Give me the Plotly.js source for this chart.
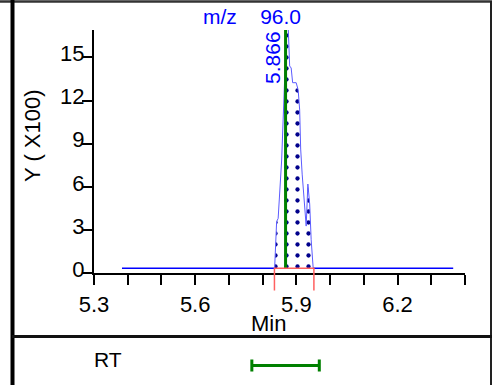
<!DOCTYPE html>
<html>
<head>
<meta charset="utf-8">
<script src="https://cdn.plot.ly/plotly-3.0.1.min.js"></script>
<style>html,body{margin:0;padding:0;background:#fff;}#chart{width:497px;height:385px;}</style>
</head>
<body>
<div id="chart"></div>
<script>
// ---- data ----
const baselineX = [5.383, 6.365];
const baselineY = [0.35, 0.35];

const peakX = [5.8356, 5.8386, 5.8415, 5.8460, 5.8519, 5.8564, 5.8608, 5.8668, 5.8712, 5.8757,
               5.8801, 5.8846, 5.8890, 5.8994, 5.9053, 5.9098, 5.9128, 5.9172, 5.9231, 5.9291,
               5.9341, 5.9395, 5.9439, 5.9499];
const peakY = [0.35, 1.60, 3.60, 3.81, 5.96, 7.87, 10.65, 14.82, 17.2, 17.2,
               14.40, 14.26, 13.24, 13.24, 12.74, 11.35, 8.63, 6.89, 4.81, 3.28,
               6.20, 4.81, 2.33, 0.35];

const apexRT = 5.868;
const apexLabel = '5.866';
const apexLineY = [0.35, 17.2];

const integStart = 5.835;
const integEnd = 5.952;
const integBase = 0.35;
const integDrop = -1.2;

const rtCenter = 5.868;
const rtHalfWidth = 0.1;
const rtRow = 0.4;

const xTicks = [5.3, 5.6, 5.9, 6.2];
const yTicks = [0, 3, 6, 9, 12, 15];
const mzText = 'm/z\u00a0\u00a0\u00a0 96.0';
const xTitle = 'Min';
const yTitle = 'Y ( X100)';
const rowLabel = 'RT';

// ---- geometry (paper fractions) ----
const W = 497, H = 385;
const px = v => v / W;
const py = v => (H - v) / H;
const xDom = [px(94), px(465)];
const yDom = [py(273.3), py(30)];
const yTop = 16.9;
const unitPx = (273.3 - 30) / yTop;
const y3Bottom = 300;
const y3Range = [-(y3Bottom - 273.3) / unitPx, yTop];

const FONT = 'Liberation Sans, Arial, sans-serif';

const traces = [
  {x: baselineX, y: baselineY, mode: 'lines', line: {color: '#0000ff', width: 1.5},
   xaxis: 'x', yaxis: 'y', hoverinfo: 'skip', showlegend: false},
  {x: peakX, y: peakY, mode: 'lines', fill: 'toself',
   line: {color: '#5b5bff', width: 1},
   fillcolor: 'rgba(255,255,255,1)',
   fillpattern: {shape: '.', fgcolor: '#00008b', bgcolor: '#ffffff', size: 11, solidity: 0.12},
   xaxis: 'x', yaxis: 'y', hoverinfo: 'skip', showlegend: false},
  {x: [apexRT, apexRT], y: apexLineY, mode: 'lines', line: {color: '#008000', width: 3},
   xaxis: 'x', yaxis: 'y', hoverinfo: 'skip', showlegend: false},
  {x: [integStart, integStart, integEnd, integEnd], y: [integDrop, integBase, integBase, integDrop],
   mode: 'lines', line: {color: '#ff6060', width: 1.5},
   xaxis: 'x3', yaxis: 'y3', hoverinfo: 'skip', showlegend: false},
  {x: [rtCenter], y: [rtRow], mode: 'markers', marker: {size: 1, color: 'rgba(0,0,0,0)'},
   error_x: {type: 'data', array: [rtHalfWidth], color: '#008000', thickness: 3, width: 6},
   xaxis: 'x2', yaxis: 'y2', hoverinfo: 'skip', showlegend: false}
];

const layout = {
  width: W, height: H,
  margin: {l: 0, r: 0, t: 0, b: 0},
  paper_bgcolor: '#ffffff', plot_bgcolor: 'rgba(0,0,0,0)',
  font: {family: FONT, size: 21, color: '#000'},
  showlegend: false,
  title: {text: mzText, x: px(252), y: py(17), xanchor: 'center', yanchor: 'middle',
          xref: 'paper', yref: 'paper', font: {family: FONT, size: 21, color: '#0000ff'}},
  xaxis: {domain: xDom, range: [5.3, 6.4], anchor: 'y',
          tickvals: xTicks, ticktext: xTicks.map(v => v.toFixed(1)),
          showgrid: false, zeroline: false, showline: true, linecolor: '#000', linewidth: 2,
          ticks: 'outside', ticklen: 10, tickwidth: 2, tickcolor: '#000',
          minor: {dtick: 0.1, ticks: 'outside', ticklen: 10, tickwidth: 2, tickcolor: '#000', showgrid: false},
          tickfont: {family: FONT, size: 22}},
  yaxis: {domain: yDom, range: [0, yTop], anchor: 'x',
          tickvals: yTicks, showgrid: false, zeroline: false, showline: true, linecolor: '#000', linewidth: 2,
          ticks: 'outside', ticklen: 10, tickwidth: 2, tickcolor: '#000',
          ticklabelshift: -4, ticklabelstandoff: -7,
          tickfont: {family: FONT, size: 22}},
  xaxis2: {domain: xDom, matches: 'x', anchor: 'y2', visible: false},
  yaxis2: {domain: [0, py(336)], range: [0, 1], anchor: 'x2', visible: false},
  xaxis3: {domain: xDom, matches: 'x', anchor: 'y3', visible: false},
  yaxis3: {domain: [py(y3Bottom), yDom[1]], range: y3Range, anchor: 'x3', visible: false},
  annotations: [
    {text: apexLabel, xref: 'x', yref: 'y', x: apexRT, y: 15.0, xshift: -13,
     textangle: -90, showarrow: false, xanchor: 'center', yanchor: 'middle',
     font: {family: FONT, size: 21, color: '#0000ff'}},
    {text: xTitle, xref: 'paper', yref: 'paper', x: px(268), y: py(323), showarrow: false,
     xanchor: 'center', yanchor: 'middle', font: {family: FONT, size: 22, color: '#000'}},
    {text: yTitle, xref: 'paper', yref: 'paper', x: px(32), y: py(136), showarrow: false,
     textangle: -90, xanchor: 'center', yanchor: 'middle', font: {family: FONT, size: 22, color: '#000'}},
    {text: rowLabel, xref: 'paper', yref: 'paper', x: px(108), y: py(359), showarrow: false,
     xanchor: 'center', yanchor: 'middle', font: {family: FONT, size: 21, color: '#000'}}
  ],
  shapes: [
    {type: 'line', xref: 'paper', yref: 'paper', x0: 0, x1: px(492), y0: py(1.5), y1: py(1.5),
     line: {color: '#333', width: 2.5}},
    {type: 'line', xref: 'paper', yref: 'paper', x0: px(12.5), x1: px(12.5), y0: 0, y1: 1,
     line: {color: '#000', width: 4}},
    {type: 'line', xref: 'paper', yref: 'paper', x0: px(491), x1: px(491), y0: 0, y1: py(1),
     line: {color: '#222', width: 2}},
    {type: 'line', xref: 'paper', yref: 'paper', x0: px(12), x1: px(492), y0: py(336.5), y1: py(336.5),
     line: {color: '#111', width: 3}}
  ]
};

Plotly.newPlot('chart', traces, layout, {staticPlot: true, displayModeBar: false});
</script>
</body>
</html>
